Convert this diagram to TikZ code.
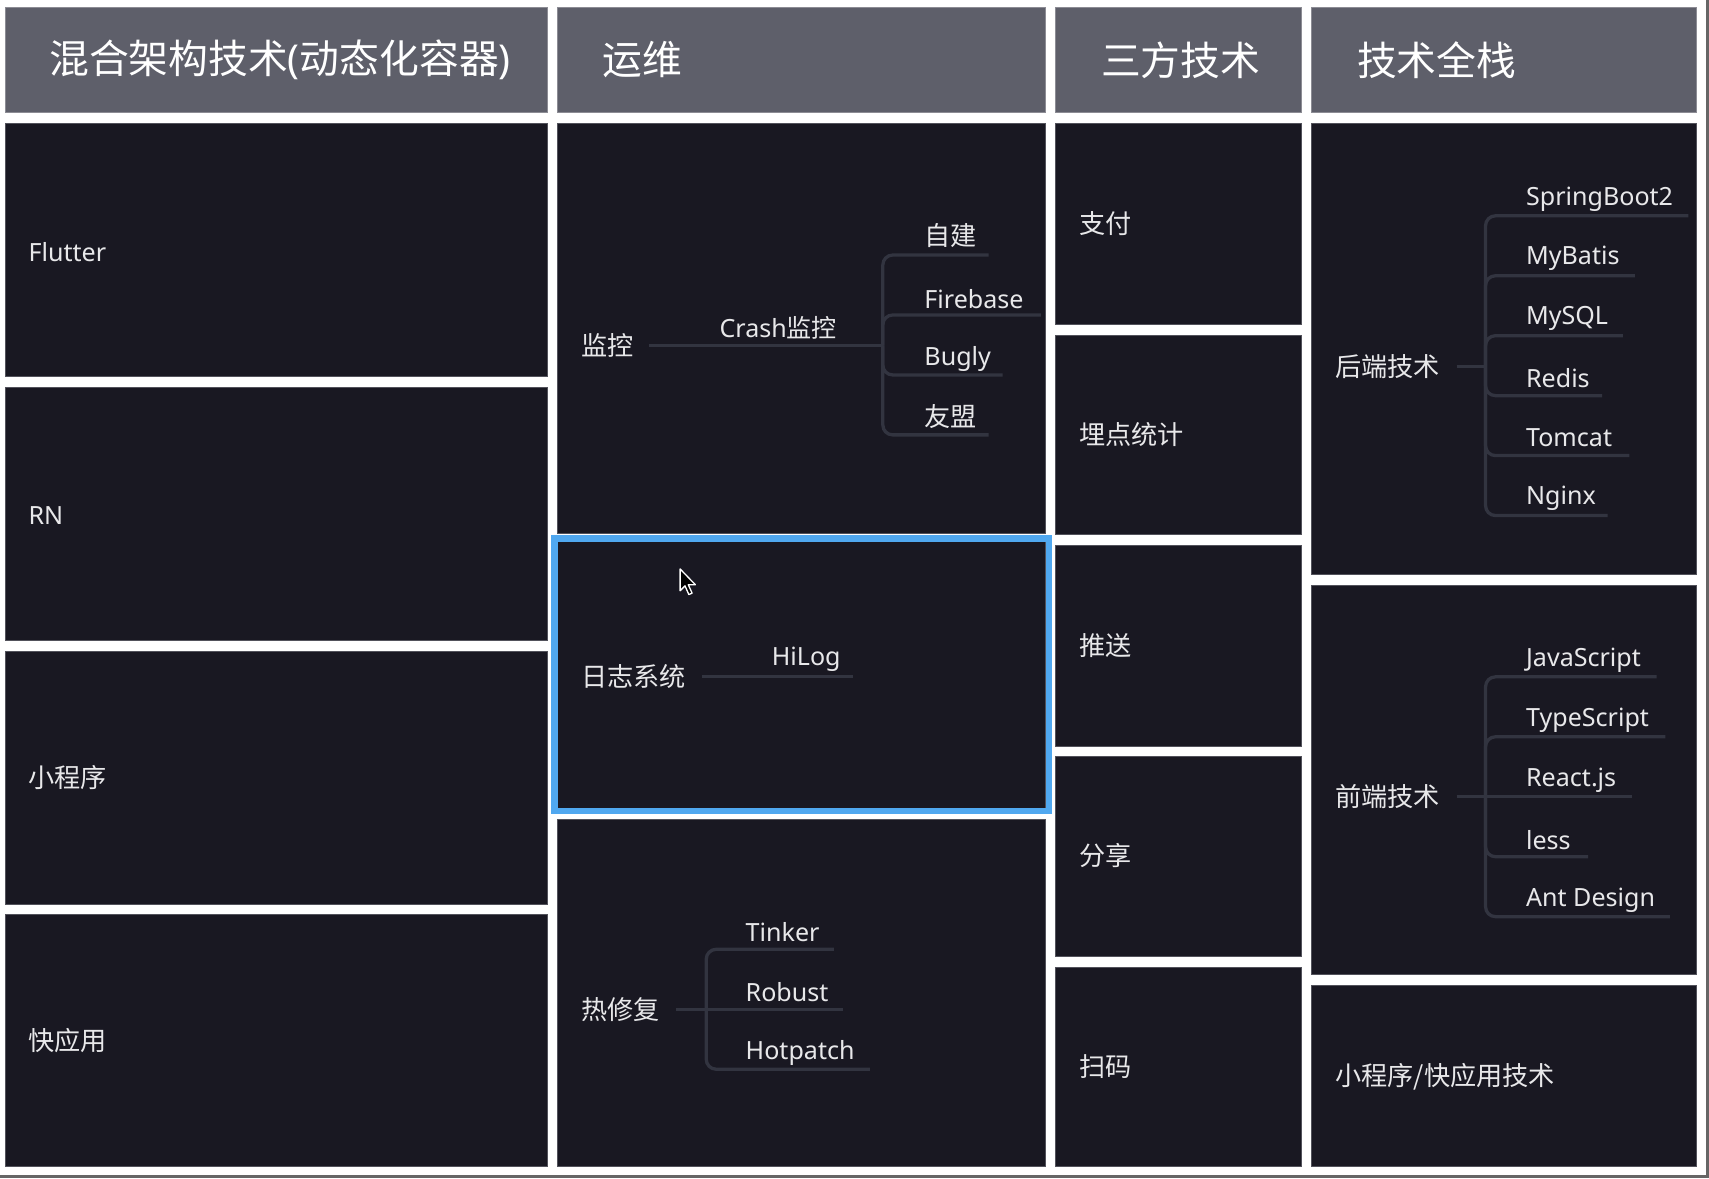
\documentclass[tikz,border=0pt]{standalone}
\usepackage{fontspec}
\setmainfont{Noto Sans}
\newfontfamily\cjk{Noto Sans CJK SC}
\definecolor{hdr}{RGB}{94,95,106}
\definecolor{cellc}{RGB}{25,24,34}
\definecolor{edgec}{RGB}{140,140,148}
\definecolor{txt}{RGB}{232,232,234}
\definecolor{linkc}{RGB}{50,52,64}
\definecolor{selc}{RGB}{80,168,240}
\tikzset{
  hdrbox/.style={fill=hdr, draw=edgec, line width=0.8pt, anchor=north west, inner sep=0pt, minimum height=97pt},
  cellbox/.style={fill=cellc, draw=edgec!50!cellc, line width=0.8pt, anchor=north west, inner sep=0pt},
  hdrtext/.style={anchor=west, inner sep=0pt, text=white, font=\cjk\fontsize{36.5}{40}\selectfont},
  lbl/.style={anchor=west, inner sep=0pt, yshift=-2pt, text=txt, font=\fontsize{23}{27}\selectfont},
  clbl/.style={anchor=west, inner sep=0pt, text=txt, font=\cjk\fontsize{24}{28}\selectfont},
  link/.style={draw=linkc, line width=3pt},
  branch/.style={link, rounded corners=9pt},
}
\begin{document}
\begin{tikzpicture}[x=1pt, y=-1pt]
\fill[white] (0,0) rectangle (1568,1081);
\useasboundingbox (0,0) rectangle (1568,1081);
\fill[black!60] (0,1078) rectangle (1568,1081);
\fill[black!60] (1565,0) rectangle (1568,1081);

% headers
\node[hdrbox, minimum width=497pt] (h1) at (5,6) {};
\node[hdrbox, minimum width=448pt] (h2) at (511,6) {};
\node[hdrbox, minimum width=226pt] (h3) at (968,6) {};
\node[hdrbox, minimum width=353pt] (h4) at (1203,6) {};
\node[hdrtext] (h1t) at (45,55) {混合架构技术{\rmfamily(}动态化容器{\rmfamily)}};
\node[hdrtext] (h2t) at (553,55) {运维};
\node[hdrtext] (h3t) at (1010,55) {三方技术};
\node[hdrtext] (h4t) at (1245,55) {技术全栈};

% column 1
\node[cellbox, minimum width=497pt, minimum height=232pt] (a1) at (5,113) {};
\node[cellbox, minimum width=497pt, minimum height=232pt] (a2) at (5,355) {};
\node[cellbox, minimum width=497pt, minimum height=232pt] (a3) at (5,597) {};
\node[cellbox, minimum width=497pt, minimum height=231pt] (a4) at (5,839) {};
\node[lbl] (a1t) at (26,229) {Flutter};
\node[lbl] (a2t) at (26,471) {RN};
\node[clbl] (a3t) at (26,713) {小程序};
\node[clbl] (a4t) at (26,955) {快应用};

% column 2
\node[cellbox, minimum width=448pt, minimum height=376pt] (b1) at (511,113) {};
\node[cellbox, minimum width=448pt, minimum height=250pt] (b2) at (511,494) {};
\node[cellbox, minimum width=448pt, minimum height=319pt] (b3) at (511,751) {};
\draw[selc, line width=6pt] (508.5,494) rectangle (962.5,744);

% monitoring
\node[clbl] (m0) at (533,317) {监控};
\node[lbl] (m1) at (660,299) {Crash{\cjk 监控}};
\node[clbl] (m2) at (848,216) {自建};
\node[lbl] (m3) at (848,272) {Firebase};
\node[lbl] (m4) at (848,327) {Bugly};
\node[clbl] (m5) at (848,382) {友盟};
\coordinate (mj) at (810,317);
\coordinate (m2e) at (907,234);
\coordinate (m3e) at (955,289);
\coordinate (m4e) at (920,344);
\coordinate (m5e) at (907,399);
\draw[link] ([xshift=14pt]m0.east |- mj) -- (mj);
\draw[branch] (mj) |- (m2e);
\draw[branch] (mj) |- (m3e);
\draw[branch] (mj) |- (m4e);
\draw[branch] (mj) |- (m5e);

% logging
\node[clbl] (l0) at (533,621) {日志系统};
\node[lbl] (l1) at (708,603) {HiLog};
\coordinate (l1e) at (783,621);
\draw[link] ([xshift=15pt]l0.east |- l1e) -- (l1e);
\filldraw[fill=black, draw=white, line width=1.2pt, line join=round]
  (624,522) -- ++(0,20) -- ++(4.5,-4.5) -- ++(3.5,8) -- ++(3,-1.3) -- ++(-3.5,-7.7) -- ++(6.5,0) -- cycle;

% hotfix
\node[clbl] (r0) at (533,926) {热修复};
\node[lbl] (r1) at (684,853) {Tinker};
\node[lbl] (r2) at (684,908) {Robust};
\node[lbl] (r3) at (684,964) {Hotpatch};
\coordinate (rj) at (648,926);
\coordinate (r1e) at (765,871);
\coordinate (r2e) at (773,926);
\coordinate (r3e) at (798,981);
\draw[link] ([xshift=15pt]r0.east |- rj) -- (rj);
\draw[branch] (rj) |- (r1e);
\draw[link] (rj) -- (r2e);
\draw[branch] (rj) |- (r3e);

% column 3
\node[cellbox, minimum width=226pt, minimum height=184pt] (c1) at (968,113) {};
\node[cellbox, minimum width=226pt, minimum height=183pt] (c2) at (968,307) {};
\node[cellbox, minimum width=226pt, minimum height=184pt] (c3) at (968,500) {};
\node[cellbox, minimum width=226pt, minimum height=183pt] (c4) at (968,694) {};
\node[cellbox, minimum width=226pt, minimum height=183pt] (c5) at (968,887) {};
\node[clbl] (c1t) at (990,205) {支付};
\node[clbl] (c2t) at (990,399) {埋点统计};
\node[clbl] (c3t) at (990,592) {推送};
\node[clbl] (c4t) at (990,785) {分享};
\node[clbl] (c5t) at (990,979) {扫码};

% column 4
\node[cellbox, minimum width=353pt, minimum height=414pt] (d1) at (1203,113) {};
\node[cellbox, minimum width=353pt, minimum height=357pt] (d2) at (1203,537) {};
\node[cellbox, minimum width=353pt, minimum height=166pt] (d3) at (1203,904) {};

% backend
\node[clbl] (k0) at (1225,336) {后端技术};
\node[lbl] (k1) at (1400,181) {SpringBoot2};
\node[lbl] (k2) at (1400,235) {MyBatis};
\node[lbl] (k3) at (1400,290) {MySQL};
\node[lbl] (k4) at (1400,345) {Redis};
\node[lbl] (k5) at (1400,400) {Tomcat};
\node[lbl] (k6) at (1400,455) {Nginx};
\coordinate (kj) at (1363,336);
\coordinate (k1e) at (1549,198);
\coordinate (k2e) at (1500,253);
\coordinate (k3e) at (1489,308);
\coordinate (k4e) at (1470,363);
\coordinate (k5e) at (1495,418);
\coordinate (k6e) at (1475,473);
\draw[link] ([xshift=15pt]k0.east |- kj) -- (kj);
\foreach \e in {k1e,k2e,k3e,k4e,k5e,k6e} \draw[branch] (kj) |- (\e);

% frontend
\node[clbl] (f0) at (1225,731) {前端技术};
\node[lbl] (f1) at (1400,604) {JavaScript};
\node[lbl] (f2) at (1400,659) {TypeScript};
\node[lbl] (f3) at (1400,714) {React.js};
\node[lbl] (f4) at (1400,769) {less};
\node[lbl] (f5) at (1400,824) {Ant Design};
\coordinate (fj) at (1363,731);
\coordinate (f1e) at (1520,621);
\coordinate (f2e) at (1528,676);
\coordinate (f3e) at (1497,731);
\coordinate (f4e) at (1457,786);
\coordinate (f5e) at (1532,841);
\draw[link] ([xshift=15pt]f0.east |- fj) -- (fj);
\draw[branch] (fj) |- (f1e);
\draw[branch] (fj) |- (f2e);
\draw[link] (fj) -- (f3e);
\draw[branch] (fj) |- (f4e);
\draw[branch] (fj) |- (f5e);

\node[clbl] (d3t) at (1225,988) {小程序/快应用技术};
\end{tikzpicture}
\end{document}
